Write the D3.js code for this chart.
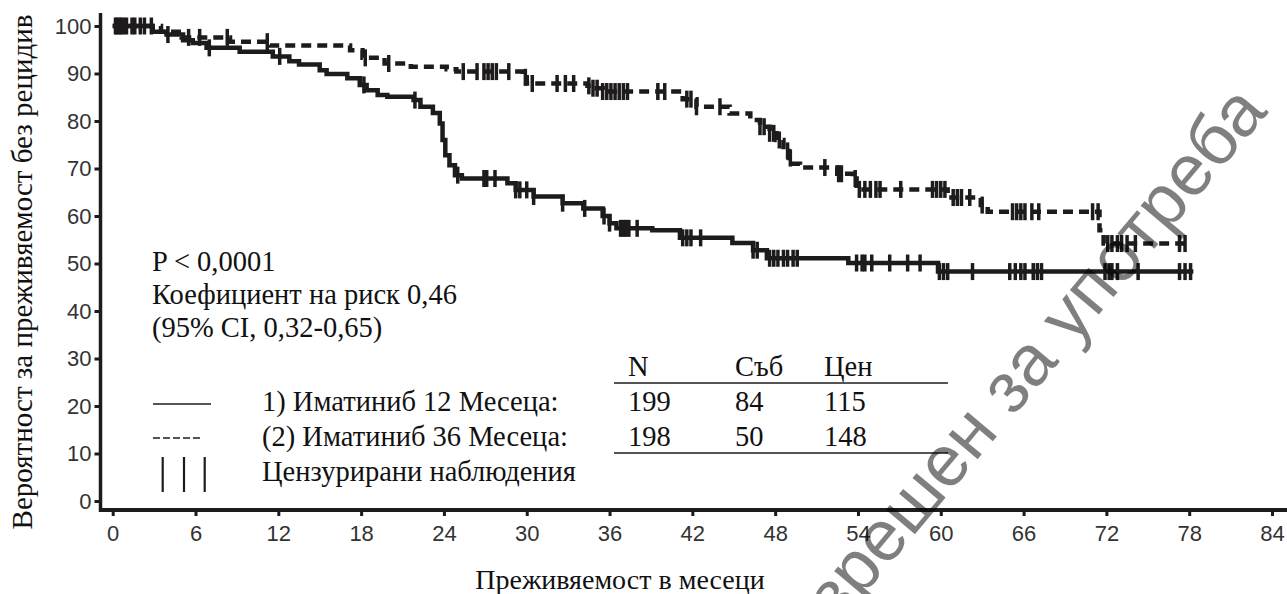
<!DOCTYPE html>
<html>
<head>
<meta charset="utf-8">
<script src="https://cdn.jsdelivr.net/npm/d3@7"></script>
<style>
  body { margin: 0; background: #fff; }
  svg { display: block; }
  .serif { font-family: "Liberation Serif", "Times New Roman", serif; fill: #111; }
</style>
</head>
<body>
<svg></svg>
<script>
// ---- data ----
let xTicks = [0, 6, 12, 18, 24, 30, 36, 42, 48, 54, 60, 66, 72, 78, 84];
let yTicks = [0, 10, 20, 30, 40, 50, 60, 70, 80, 90, 100];

// [month, survival %] right after each drop
let arm12Steps = [[0,100],[2.9,98.8],[3.9,98.2],[5.1,97],[5.8,96.4],[6.8,95.4],[9.2,94.6],[11.6,93.6],
  [12.8,92.6],[13.5,91.9],[15.0,90.7],[15.5,89.9],[17.0,89.0],[17.9,87.6],[18.4,86.5],[19.2,85.5],
  [19.9,85.1],[21.8,84.4],[22.3,83.0],[23.2,81.7],[23.7,79.5],[23.9,76],[24.1,72.8],[24.4,70.7],
  [24.8,68.6],[25.3,67.9],[28.6,66.9],[29.2,65.5],[30.5,64.1],[32.6,62.7],[34.1,61.6],[35.5,60],
  [36.0,58.5],[36.5,57.4],[39.1,57.0],[41.1,55.4],[44.9,54.3],[46.4,52.8],[47.4,51.1],[53.3,50.1],
  [59.8,48.3]];
let arm12End = 78.3;
let arm12Censor = [0.2,0.5,0.8,1.4,2.0,2.8,4.0,7.0,12.1,18.2,21.9,25.0,26.9,27.1,27.7,29.2,29.5,30.0,
  30.5,32.6,34.2,35.6,36.0,36.8,37.0,37.2,37.4,38.0,41.3,41.6,41.9,42.6,46.4,46.7,47.6,47.9,48.2,48.6,
  48.9,49.3,49.6,53.9,54.3,54.5,55.0,56.3,57.6,58.5,59.9,60.2,60.5,62.3,65.0,65.4,65.8,66.1,66.7,67.0,
  67.3,71.9,72.2,72.4,72.8,74.3,77.3,77.7,78.1];

let arm36Steps = [[0,100],[3.5,98.8],[5.0,97.6],[8.5,96.7],[11.4,95.9],[17.2,94.9],[18.1,93.3],[19.7,92.1],
  [21.6,91.4],[24.2,90.9],[24.9,90.4],[29.7,89.2],[30.0,87.9],[34.4,87.4],[34.8,86.9],[35.5,86.2],
  [41.3,84.6],[42.3,83.0],[44.7,81.6],[46.2,80.2],[46.9,78.8],[47.6,77.4],[48.1,76.0],[48.6,73.7],
  [49.0,72.2],[49.3,71.0],[49.8,70.2],[52.5,68.9],[53.6,67.9],[53.9,65.6],[60.5,63.9],[62.9,62.3],
  [63.4,60.9],[71.5,57.0],[71.8,54.2]];
let arm36End = 77.7;
let arm36Censor = [0.3,0.6,1.0,1.6,2.3,5.5,6.3,8.3,11.2,18.3,20.0,25.4,26.4,26.9,27.2,27.5,27.8,28.7,
  29.9,30.4,32.2,32.8,33.4,34.5,34.8,35.1,35.5,35.8,36.1,36.4,36.7,37.0,37.3,39.5,40.0,41.6,41.9,42.3,
  44.0,46.9,47.2,47.6,47.9,48.3,48.9,49.1,51.6,52.6,52.8,53.8,54.1,54.5,54.9,55.3,55.6,57.1,59.4,59.7,
  60.0,60.3,60.9,61.2,61.5,62.1,63.0,65.2,65.5,65.8,66.1,66.6,67.1,71.0,71.4,72.1,72.4,72.8,73.1,73.5,
  74.1,77.3,77.7];

let statLines = ["P < 0,0001", "Коефициент на риск 0,46", "(95% CI, 0,32-0,65)"];
let legendLabels = ["1) Иматиниб 12 Месеца:", "(2) Иматиниб 36 Месеца:", "Цензурирани наблюдения"];
let tableHead = ["N", "Съб", "Цен"];
let tableRows = [["199", "84", "115"], ["198", "50", "148"]];
let xTitle = "Преживяемост в месеци";
let yTitle = "Вероятност за преживяемост без рецидив";
let watermark = "Разрешен за употреба";

// ---- layout ----
let width = 1287;
let height = 594;
let ink = "#1e1b1c";
let serifSize = 28.5;

let svg = d3.select("svg").attr("width", width).attr("height", height);
svg.append("rect").attr("width", width).attr("height", height).attr("fill", "#fff");

let xScale = d3.scaleLinear().domain([0, 84]).range([112.7, 1272]);
let yScale = d3.scaleLinear().domain([0, 100]).range([501, 26]);

// ---- axes ----
let xAxis = d3.axisBottom(xScale).tickValues(xTicks).tickSize(6).tickPadding(9);
let yAxis = d3.axisLeft(yScale).tickValues(yTicks).tickSize(6).tickPadding(3);

let gx = svg.append("g").attr("transform", "translate(0,510)").call(xAxis);
let gy = svg.append("g").attr("transform", "translate(100.5,0)").call(yAxis);
[gx, gy].forEach(g => {
  g.select(".domain").remove();
  g.selectAll(".tick line").attr("stroke", ink).attr("stroke-width", 3);
  g.selectAll(".tick text")
    .style("font-family", "'Liberation Sans', Arial, sans-serif")
    .style("font-size", "22px")
    .style("fill", "#333");
});

svg.append("line").attr("x1", 99).attr("x2", 1287).attr("y1", 510).attr("y2", 510)
  .attr("stroke", ink).attr("stroke-width", 4);
svg.append("line").attr("x1", 100.5).attr("x2", 100.5).attr("y1", 13).attr("y2", 512)
  .attr("stroke", ink).attr("stroke-width", 3.5);

svg.append("text").attr("class", "serif").attr("font-size", 29)
  .attr("text-anchor", "middle")
  .attr("transform", "translate(32,272) rotate(-90)")
  .text(yTitle);

svg.append("text").attr("class", "serif").attr("font-size", 28)
  .attr("text-anchor", "middle").attr("x", 620).attr("y", 589)
  .text(xTitle);

// ---- curves ----
let stepLine = d3.line()
  .x(d => xScale(d[0]))
  .y(d => yScale(d[1]))
  .curve(d3.curveStepAfter);

let valueAt = (steps, t) => {
  let v = steps[0][1];
  steps.forEach(s => { if (s[0] <= t) v = s[1]; });
  return v;
};

let drawArm = (steps, end, censor, dash) => {
  let pts = steps.concat([[end, steps[steps.length - 1][1]]]);
  svg.append("path")
    .datum(pts)
    .attr("d", stepLine)
    .attr("fill", "none")
    .attr("stroke", ink)
    .attr("stroke-width", 4.5)
    .attr("stroke-dasharray", dash);

  svg.append("g")
    .selectAll("line")
    .data(censor)
    .enter()
    .append("line")
    .attr("x1", t => xScale(t))
    .attr("x2", t => xScale(t))
    .attr("y1", t => yScale(valueAt(steps, t)) - 8.5)
    .attr("y2", t => yScale(valueAt(steps, t)) + 8.5)
    .attr("stroke", ink)
    .attr("stroke-width", 3.5);
};

drawArm(arm36Steps, arm36End, arm36Censor, "10,6");
drawArm(arm12Steps, arm12End, arm12Censor, null);

// ---- annotations ----
svg.append("g").selectAll("text")
  .data(statLines).enter().append("text")
  .attr("class", "serif").attr("font-size", serifSize)
  .attr("x", 152).attr("y", (d, i) => 271 + i * 33)
  .text(d => d);

svg.append("g").selectAll("text")
  .data(legendLabels).enter().append("text")
  .attr("class", "serif").attr("font-size", serifSize)
  .attr("x", 262).attr("y", (d, i) => 411 + i * 35)
  .text(d => d);

svg.append("line").attr("x1", 153).attr("x2", 211).attr("y1", 404).attr("y2", 404)
  .attr("stroke", ink).attr("stroke-width", 1.6);
svg.append("line").attr("x1", 153).attr("x2", 200).attr("y1", 438).attr("y2", 438)
  .attr("stroke", ink).attr("stroke-width", 1.6).attr("stroke-dasharray", "7,3");
svg.append("g").selectAll("line")
  .data([162.7, 184, 204.7]).enter().append("line")
  .attr("x1", d => d).attr("x2", d => d).attr("y1", 457).attr("y2", 492)
  .attr("stroke", ink).attr("stroke-width", 2.2);

// ---- table ----
let colX = [628, 735, 824];
svg.append("g").selectAll("text")
  .data(tableHead).enter().append("text")
  .attr("class", "serif").attr("font-size", serifSize)
  .attr("x", (d, i) => colX[i]).attr("y", 376)
  .text(d => d);
tableRows.forEach((row, r) => {
  svg.append("g").selectAll("text")
    .data(row).enter().append("text")
    .attr("class", "serif").attr("font-size", serifSize)
    .attr("x", (d, i) => colX[i]).attr("y", 411 + r * 35)
    .text(d => d);
});
[383, 453].forEach(y => {
  svg.append("line").attr("x1", 614).attr("x2", 948).attr("y1", y).attr("y2", y)
    .attr("stroke", ink).attr("stroke-width", 1.5);
});

// ---- watermark ----
svg.append("text")
  .attr("font-family", "Liberation Sans, Arial, sans-serif")
  .attr("font-size", 72)
  .attr("fill", "#000")
  .attr("fill-opacity", 0.5)
  .attr("text-anchor", "end")
  .attr("transform", "translate(1269,112) rotate(-50)")
  .text(watermark);
</script>
</body>
</html>
